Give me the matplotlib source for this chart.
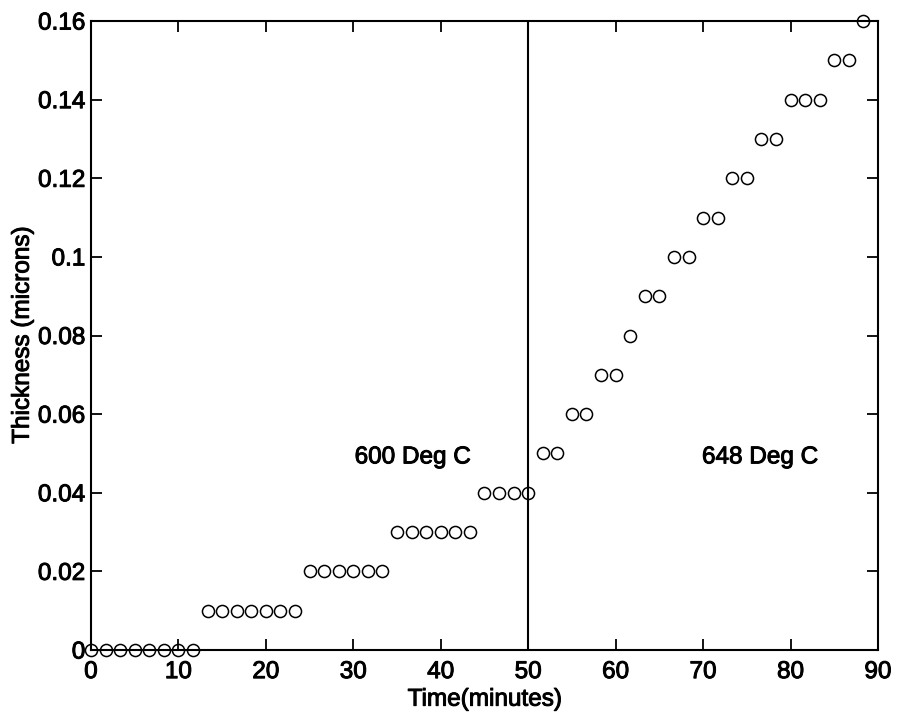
import matplotlib
matplotlib.use("Agg")
import matplotlib.pyplot as plt
import matplotlib.patheffects as pe
import numpy as np

# Oxide thickness readings, one every 100 s
time_min = [0, 1.667, 3.333, 5, 6.667, 8.333, 10, 11.667,
            13.333, 15, 16.667, 18.333, 20, 21.667, 23.333,
            25, 26.667, 28.333, 30, 31.667, 33.333,
            35, 36.667, 38.333, 40, 41.667, 43.333,
            45, 46.667, 48.333, 50,
            51.667, 53.333, 55, 56.667, 58.333, 60, 61.667,
            63.333, 65, 66.667, 68.333, 70, 71.667, 73.333, 75,
            76.667, 78.333, 80, 81.667, 83.333, 85, 86.667, 88.333]
thickness = [0, 0, 0, 0, 0, 0, 0, 0,
             0.01, 0.01, 0.01, 0.01, 0.01, 0.01, 0.01,
             0.02, 0.02, 0.02, 0.02, 0.02, 0.02,
             0.03, 0.03, 0.03, 0.03, 0.03, 0.03,
             0.04, 0.04, 0.04, 0.04,
             0.05, 0.05, 0.06, 0.06, 0.07, 0.07, 0.08,
             0.09, 0.09, 0.10, 0.10, 0.11, 0.11, 0.12, 0.12,
             0.13, 0.13, 0.14, 0.14, 0.14, 0.15, 0.15, 0.16]
switch_time = 50
x_ticks = [0, 10, 20, 30, 40, 50, 60, 70, 80, 90]
y_ticks = [0, 0.02, 0.04, 0.06, 0.08, 0.1, 0.12, 0.14, 0.16]
y_tick_labels = ["0", "0.02", "0.04", "0.06", "0.08", "0.1", "0.12", "0.14", "0.16"]
region_labels = ["600 Deg C", "648 Deg C"]

plt.rcParams["font.family"] = ["Liberation Sans", "DejaVu Sans"]

fs = 17.5
heavy = [pe.withStroke(linewidth=0.7, foreground="black")]

fig = plt.figure(figsize=(8.98, 7.15), dpi=100)
ax = fig.add_axes([0.1013, 0.0909, 0.8764, 0.8797])

ax.plot(time_min, thickness, linestyle="none", marker="o", markersize=8.7,
        markerfacecolor="none", markeredgecolor="black", markeredgewidth=1.1,
        clip_on=False, zorder=3)
ax.axvline(switch_time, color="black", linewidth=1.5)

ax.text(36.8, 0.049, region_labels[0], fontsize=fs, ha="center", va="center",
        path_effects=heavy)
ax.text(76.5, 0.049, region_labels[1], fontsize=fs, ha="center", va="center",
        path_effects=heavy)

ax.set_xlim(0, 90)
ax.set_ylim(0, 0.16)
ax.set_xticks(x_ticks)
ax.set_yticks(y_ticks)
ax.set_yticklabels(y_tick_labels)
ax.tick_params(direction="in", length=8, width=1.3, labelsize=fs,
               top=True, right=True)
ax.tick_params(axis="x", pad=8)
ax.tick_params(axis="y", pad=4)
for lab in ax.get_xticklabels() + ax.get_yticklabels():
    lab.set_path_effects(heavy)
for s in ax.spines.values():
    s.set_linewidth(1.5)

ax.set_xlabel("Time(minutes)", fontsize=fs, labelpad=4, path_effects=heavy)
ax.set_ylabel("Thickness (microns)", fontsize=fs, labelpad=3, path_effects=heavy)

fig.savefig("out.png", dpi=100)
